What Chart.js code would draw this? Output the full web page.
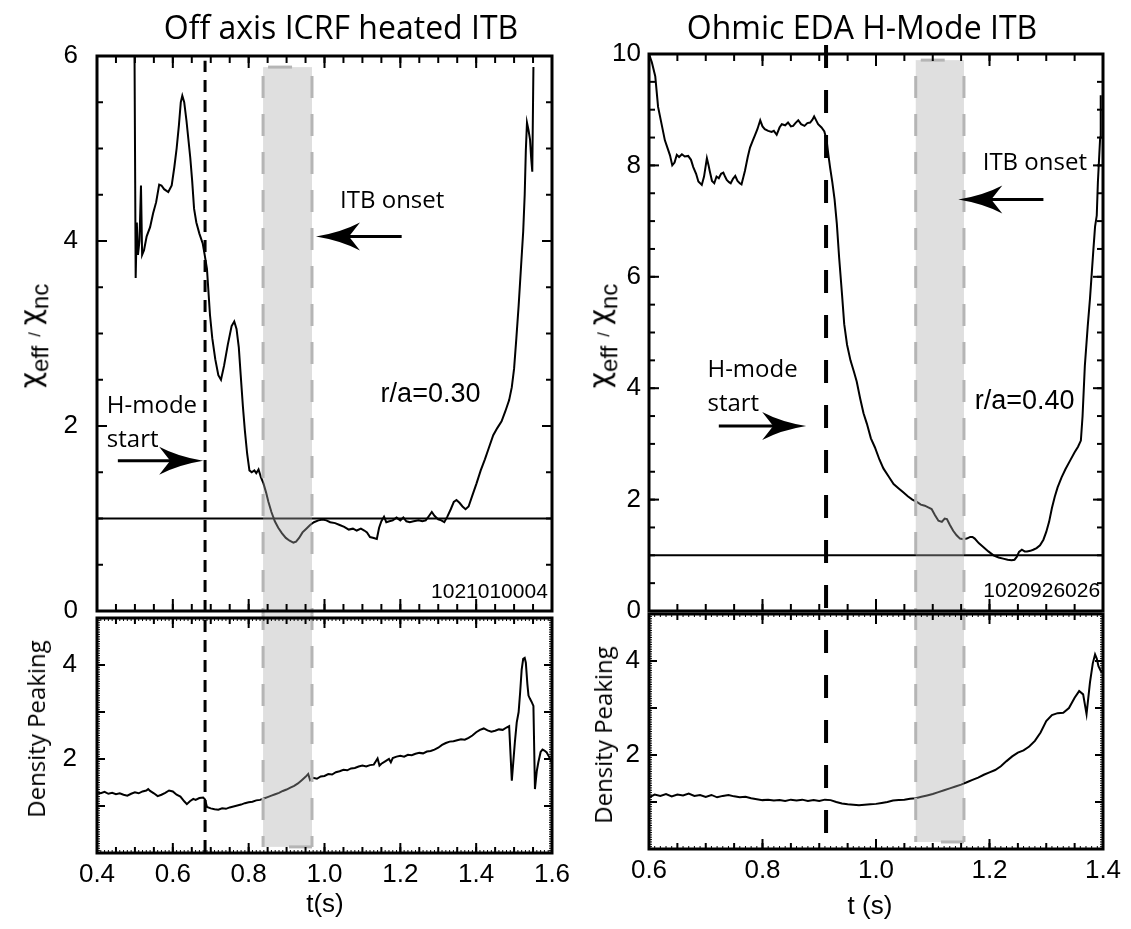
<!DOCTYPE html>
<html>
<head>
<meta charset="utf-8">
<script src="https://cdn.jsdelivr.net/npm/chart.js@4.4.1/dist/chart.umd.min.js"></script>
<style>
  body { margin: 0; background: #fff; width: 1131px; height: 929px; position: relative; overflow: hidden; color: #000; font-family: "Open Sans", sans-serif; }
  canvas { position: absolute; }
  .t { position: absolute; white-space: nowrap; transform: translate(-50%, -50%); line-height: 1; }
  .rot { transform: translate(-50%, -50%) rotate(-90deg); }
  .title { font-size: 32px; }
  .chi { font-family: "Liberation Sans", Arial, sans-serif; font-size: 30px; }
  .chi .g { font-family: "DejaVu Sans", sans-serif; font-size: 28px; }
  .chi sub { font-size: 24px; vertical-align: -0.35em; }
  .chi .sl { font-size: 16px; margin: 0 7px 0 9px; }
  .dens { font-size: 24px; }
  .tx { font-family: "Liberation Sans", Arial, sans-serif; font-size: 26px; }
</style>
</head>
<body>
<canvas id="tl" width="575" height="640" style="left:0;top:0"></canvas>
<canvas id="bl" width="575" height="329" style="left:0;top:600px"></canvas>
<canvas id="tr" width="556" height="640" style="left:575px;top:0"></canvas>
<canvas id="br" width="556" height="329" style="left:575px;top:600px"></canvas>

<div class="t title" style="left:341px;top:27px">Off axis ICRF heated ITB</div>
<div class="t title" style="left:862px;top:27px">Ohmic EDA H-Mode ITB</div>
<div class="t rot chi" style="left:34px;top:336px"><span class="g">χ</span><sub>eff</sub><span class="sl">/</span><span class="g">χ</span><sub>nc</sub></div>
<div class="t rot chi" style="left:603px;top:336px"><span class="g">χ</span><sub>eff</sub><span class="sl">/</span><span class="g">χ</span><sub>nc</sub></div>
<div class="t rot dens" style="left:36px;top:729px">Density Peaking</div>
<div class="t rot dens" style="left:603px;top:735px">Density Peaking</div>
<div class="t tx" style="left:325px;top:903px">t(s)</div>
<div class="t tx" style="left:870px;top:905px">t (s)</div>

<script>
// ---- off axis ICRF heated ITB (shot 1021010004) ----
const icrfT = [0.499, 0.502, 0.505, 0.508, 0.512, 0.516, 0.519, 0.524, 0.531, 0.540, 0.548, 0.556, 0.564, 0.570, 0.577, 0.588, 0.597, 0.604, 0.610, 0.616, 0.621, 0.625, 0.630, 0.636, 0.641, 0.646, 0.651, 0.656, 0.662, 0.670, 0.679, 0.684, 0.690, 0.698, 0.704, 0.712, 0.720, 0.727, 0.735, 0.745, 0.755, 0.762, 0.768, 0.774, 0.779, 0.785, 0.790, 0.796, 0.802, 0.808, 0.815, 0.820, 0.826, 0.832, 0.839, 0.846, 0.852, 0.860, 0.869, 0.878, 0.888, 0.898, 0.908, 0.918, 0.925, 0.933, 0.942, 0.952, 0.962, 0.972, 0.984, 0.995, 1.005, 1.015, 1.028, 1.040, 1.052, 1.064, 1.075, 1.085, 1.096, 1.105, 1.112, 1.120, 1.130, 1.138, 1.144, 1.150, 1.157, 1.163, 1.171, 1.180, 1.190, 1.200, 1.208, 1.216, 1.225, 1.235, 1.248, 1.258, 1.267, 1.276, 1.283, 1.290, 1.300, 1.308, 1.316, 1.324, 1.333, 1.341, 1.348, 1.356, 1.364, 1.372, 1.380, 1.390, 1.401, 1.412, 1.423, 1.434, 1.445, 1.456, 1.467, 1.477, 1.487, 1.494, 1.500, 1.506, 1.512, 1.518, 1.524, 1.528, 1.531, 1.534, 1.538, 1.542, 1.545, 1.548, 1.551];
const icrfChi = [6.0, 3.6, 4.2, 3.85, 4.0, 4.6, 3.85, 3.9, 4.05, 4.15, 4.3, 4.42, 4.61, 4.6, 4.56, 4.53, 4.6, 4.8, 5.0, 5.25, 5.5, 5.57, 5.5, 5.3, 5.1, 4.9, 4.65, 4.35, 4.2, 4.08, 3.97, 3.85, 3.7, 3.2, 2.95, 2.72, 2.55, 2.5, 2.65, 2.88, 3.08, 3.13, 3.05, 2.85, 2.55, 2.2, 1.95, 1.7, 1.52, 1.5, 1.52, 1.49, 1.53, 1.45, 1.38, 1.28, 1.18, 1.07, 0.97, 0.9, 0.84, 0.79, 0.76, 0.74, 0.75, 0.79, 0.85, 0.89, 0.93, 0.96, 0.98, 0.99, 0.98, 0.96, 0.95, 0.93, 0.91, 0.88, 0.89, 0.87, 0.89, 0.87, 0.85, 0.8, 0.79, 0.78, 0.9, 0.97, 1.02, 0.96, 0.97, 0.98, 1.01, 0.98, 1.01, 0.97, 0.96, 0.97, 0.98, 0.97, 0.98, 1.03, 1.07, 1.03, 0.99, 0.98, 0.96, 1.02, 1.1, 1.18, 1.2, 1.17, 1.13, 1.1, 1.13, 1.25, 1.38, 1.52, 1.64, 1.77, 1.9, 1.98, 2.05, 2.16, 2.28, 2.42, 2.62, 2.95, 3.3, 3.7, 4.1, 4.5, 4.98, 5.28, 5.2, 5.1, 4.9, 4.75, 5.88];

const icrfDensT = [0.40, 0.41, 0.42, 0.43, 0.44, 0.45, 0.46, 0.47, 0.48, 0.49, 0.50, 0.51, 0.52, 0.53, 0.535, 0.54, 0.55, 0.56, 0.57, 0.58, 0.59, 0.60, 0.61, 0.62, 0.63, 0.637, 0.645, 0.654, 0.66, 0.67, 0.68, 0.685, 0.69, 0.70, 0.71, 0.72, 0.73, 0.74, 0.75, 0.76, 0.77, 0.78, 0.79, 0.80, 0.81, 0.82, 0.83, 0.84, 0.85, 0.86, 0.87, 0.88, 0.89, 0.90, 0.91, 0.92, 0.93, 0.94, 0.95, 0.957, 0.962, 0.97, 0.98, 0.99, 1.00, 1.01, 1.02, 1.03, 1.04, 1.05, 1.06, 1.07, 1.08, 1.09, 1.10, 1.11, 1.12, 1.13, 1.14, 1.145, 1.15, 1.16, 1.17, 1.175, 1.18, 1.19, 1.20, 1.21, 1.22, 1.23, 1.24, 1.25, 1.26, 1.27, 1.28, 1.29, 1.30, 1.31, 1.32, 1.33, 1.34, 1.35, 1.36, 1.37, 1.38, 1.39, 1.40, 1.41, 1.42, 1.43, 1.44, 1.45, 1.46, 1.47, 1.48, 1.487, 1.494, 1.502, 1.507, 1.512, 1.516, 1.520, 1.524, 1.528, 1.531, 1.535, 1.538, 1.542, 1.546, 1.551, 1.555, 1.560, 1.564, 1.570, 1.575, 1.580, 1.586, 1.592, 1.599];
const icrfDens = [1.29, 1.27, 1.30, 1.26, 1.28, 1.25, 1.27, 1.24, 1.22, 1.26, 1.29, 1.27, 1.31, 1.33, 1.36, 1.32, 1.27, 1.21, 1.24, 1.28, 1.33, 1.31, 1.24, 1.20, 1.10, 1.04, 1.10, 1.15, 1.13, 1.17, 1.18, 1.14, 0.98, 0.95, 0.93, 0.92, 0.95, 0.94, 0.97, 0.99, 1.01, 1.03, 1.06, 1.08, 1.09, 1.12, 1.13, 1.16, 1.19, 1.22, 1.25, 1.28, 1.32, 1.35, 1.39, 1.43, 1.48, 1.55, 1.62, 1.68, 1.55, 1.60, 1.58, 1.63, 1.64, 1.68, 1.67, 1.72, 1.74, 1.77, 1.76, 1.80, 1.81, 1.84, 1.86, 1.84, 1.87, 1.88, 2.01, 1.86, 1.90, 1.95, 2.00, 1.93, 2.02, 2.05, 2.07, 2.05, 2.09, 2.08, 2.11, 2.13, 2.12, 2.16, 2.17, 2.20, 2.24, 2.30, 2.34, 2.37, 2.38, 2.40, 2.42, 2.41, 2.45, 2.50, 2.57, 2.62, 2.65, 2.61, 2.58, 2.60, 2.63, 2.62, 2.67, 2.70, 1.54, 2.35, 2.78, 3.0, 3.42, 3.9, 4.13, 4.15, 4.05, 3.6, 3.35, 3.28, 3.22, 3.13, 1.36, 1.75, 1.93, 2.15, 2.20, 2.18, 2.14, 2.05, 1.93];

// ---- Ohmic EDA H-mode ITB (shot 1020926026) ----
const ohmicT = [0.600, 0.605, 0.611, 0.616, 0.622, 0.628, 0.633, 0.637, 0.641, 0.645, 0.649, 0.653, 0.658, 0.663, 0.669, 0.674, 0.678, 0.683, 0.687, 0.693, 0.697, 0.702, 0.705, 0.707, 0.711, 0.715, 0.719, 0.723, 0.727, 0.731, 0.734, 0.737, 0.741, 0.744, 0.748, 0.752, 0.756, 0.760, 0.763, 0.766, 0.769, 0.774, 0.778, 0.783, 0.787, 0.791, 0.796, 0.800, 0.804, 0.810, 0.816, 0.820, 0.825, 0.830, 0.834, 0.840, 0.845, 0.850, 0.854, 0.858, 0.863, 0.868, 0.874, 0.879, 0.884, 0.888, 0.891, 0.895, 0.898, 0.904, 0.909, 0.913, 0.916, 0.919, 0.923, 0.927, 0.931, 0.935, 0.940, 0.944, 0.949, 0.955, 0.961, 0.966, 0.972, 0.978, 0.984, 0.991, 0.998, 1.006, 1.013, 1.022, 1.031, 1.040, 1.048, 1.056, 1.064, 1.072, 1.079, 1.086, 1.092, 1.098, 1.104, 1.110, 1.116, 1.121, 1.125, 1.130, 1.136, 1.142, 1.148, 1.154, 1.160, 1.166, 1.170, 1.174, 1.181, 1.189, 1.198, 1.207, 1.216, 1.224, 1.232, 1.239, 1.244, 1.248, 1.252, 1.257, 1.262, 1.266, 1.272, 1.277, 1.283, 1.289, 1.295, 1.300, 1.305, 1.310, 1.315, 1.320, 1.327, 1.334, 1.342, 1.350, 1.356, 1.361, 1.364, 1.368, 1.373, 1.377, 1.383, 1.386, 1.389, 1.391, 1.393, 1.395, 1.396];
const ohmicChi = [10.0, 9.85, 9.6, 9.05, 8.75, 8.45, 8.3, 8.18, 8.0, 8.05, 8.19, 8.15, 8.2, 8.16, 8.17, 8.1, 7.97, 7.85, 7.71, 7.65, 7.8, 8.13, 8.0, 7.9, 7.72, 7.68, 7.8, 7.77, 7.85, 7.87, 7.8, 7.74, 7.7, 7.68, 7.76, 7.81, 7.72, 7.68, 7.66, 7.78, 7.9, 8.15, 8.32, 8.45, 8.55, 8.65, 8.81, 8.7, 8.65, 8.62, 8.6, 8.62, 8.55, 8.68, 8.74, 8.72, 8.77, 8.7, 8.71, 8.76, 8.81, 8.74, 8.71, 8.76, 8.77, 8.82, 8.88, 8.8, 8.74, 8.68, 8.61, 8.45, 8.2, 7.97, 7.7, 7.39, 6.95, 6.35, 5.7, 5.15, 4.78, 4.5, 4.3, 4.12, 3.82, 3.55, 3.36, 3.1, 2.94, 2.72, 2.56, 2.42, 2.28, 2.2, 2.13, 2.06, 2.0, 1.96, 1.91, 1.89, 1.86, 1.83, 1.72, 1.62, 1.6, 1.66, 1.65, 1.55, 1.44, 1.36, 1.3, 1.29, 1.3, 1.33, 1.33, 1.3, 1.22, 1.15, 1.07, 1.0, 0.96, 0.94, 0.92, 0.91, 0.92, 0.97, 1.06, 1.1, 1.07, 1.07, 1.08, 1.1, 1.13, 1.18, 1.28, 1.42, 1.6, 1.85, 2.05, 2.22, 2.4, 2.55, 2.7, 2.85, 2.95, 3.06, 3.5, 4.4, 5.1, 5.6, 6.48, 6.9, 7.1, 7.7, 8.1, 8.5, 9.26];

const ohmicDensT = [0.60, 0.61, 0.62, 0.63, 0.64, 0.65, 0.66, 0.67, 0.68, 0.69, 0.70, 0.71, 0.72, 0.73, 0.74, 0.75, 0.76, 0.77, 0.78, 0.79, 0.80, 0.81, 0.82, 0.83, 0.84, 0.85, 0.86, 0.87, 0.88, 0.89, 0.90, 0.91, 0.92, 0.93, 0.94, 0.95, 0.96, 0.97, 0.98, 0.99, 1.00, 1.01, 1.02, 1.03, 1.04, 1.05, 1.06, 1.07, 1.08, 1.09, 1.10, 1.11, 1.12, 1.13, 1.14, 1.15, 1.16, 1.17, 1.18, 1.19, 1.20, 1.21, 1.22, 1.23, 1.24, 1.25, 1.26, 1.27, 1.28, 1.29, 1.30, 1.31, 1.32, 1.33, 1.34, 1.35, 1.358, 1.365, 1.371, 1.377, 1.382, 1.386, 1.389, 1.392, 1.396, 1.40];
const ohmicDens = [1.10, 1.16, 1.13, 1.17, 1.12, 1.16, 1.14, 1.18, 1.13, 1.15, 1.11, 1.15, 1.10, 1.13, 1.15, 1.12, 1.10, 1.11, 1.08, 1.06, 1.04, 1.05, 1.03, 1.04, 1.02, 1.05, 1.03, 1.05, 1.02, 1.04, 1.02, 1.05, 1.04, 1.00, 0.97, 0.95, 0.94, 0.93, 0.94, 0.95, 0.96, 0.98, 1.00, 1.03, 1.04, 1.05, 1.07, 1.08, 1.11, 1.14, 1.17, 1.21, 1.25, 1.29, 1.33, 1.37, 1.42, 1.47, 1.52, 1.58, 1.63, 1.68, 1.76, 1.87, 1.97, 2.05, 2.10, 2.18, 2.30, 2.48, 2.72, 2.85, 2.89, 2.90, 3.00, 3.22, 3.36, 3.29, 2.87, 3.54, 3.95, 4.14, 4.05, 3.89, 3.79, 3.75];

// event markers (s) and ITB onset windows (s)
const icrfHmodeStart = 0.685;
const icrfItbWindow = [0.838, 0.967];
const ohmicHmodeStart = 0.912;
const ohmicItbWindow = [1.070, 1.155];
const unityLevel = 1;

const icrfRange = [0.4, 1.6];
const ohmicRange = [0.6, 1.4];

Chart.defaults.font.family = '"Liberation Sans", Arial, sans-serif';
Chart.defaults.color = '#000';

const pts = (ts, vs) => ts.map((t, i) => ({ x: t, y: vs[i] }));

function line(ctx, x1, y1, x2, y2) {
  ctx.beginPath(); ctx.moveTo(x1, y1); ctx.lineTo(x2, y2); ctx.stroke();
}

function arrow(ctx, x1, x2, y) {
  const d = Math.sign(x2 - x1);
  ctx.lineWidth = 3;
  ctx.setLineDash([]);
  line(ctx, x1, y, x2 - d * 30, y);
  ctx.beginPath();
  ctx.moveTo(x2, y);
  ctx.quadraticCurveTo(x2 - d * 25, y - 4, x2 - d * 44, y - 14);
  ctx.lineTo(x2 - d * 33, y);
  ctx.lineTo(x2 - d * 44, y + 14);
  ctx.quadraticCurveTo(x2 - d * 25, y + 4, x2, y);
  ctx.fill();
}

function drawTicks(ctx, a, scale, horiz, specs) {
  specs.forEach((s) => {
    ctx.lineWidth = s.w;
    const n = Math.round((scale.max - scale.min) / s.step);
    for (let i = 0; i <= n; i++) {
      const p = scale.getPixelForValue(scale.min + i * s.step);
      if (horiz) {
        line(ctx, p, a.bottom, p, a.bottom - s.len);
        line(ctx, p, a.top, p, a.top + s.len);
      } else {
        line(ctx, a.left, p, a.left + s.len, p);
        line(ctx, a.right, p, a.right - s.len, p);
      }
    }
  });
}

const decor = {
  id: 'decor',
  afterDatasetsDraw(chart, args, o) {
    const { ctx, chartArea: a } = chart;
    const x = chart.scales.x, y = chart.scales.y;
    const isTop = o.part === 'top';
    ctx.save();

    // ITB onset window
    const b = o.band;
    const bx0 = x.getPixelForValue(b.from), bx1 = x.getPixelForValue(b.to);
    const by0 = isTop ? y.getPixelForValue(b.top) : a.top - o.gap / 2;
    const by1 = isTop ? a.bottom + o.gap / 2 : y.getPixelForValue(b.bottom);
    ctx.fillStyle = 'rgba(172,172,172,0.38)';
    ctx.fillRect(bx0, by0, bx1 - bx0, by1 - by0);
    ctx.strokeStyle = '#b5b5b5';
    ctx.lineWidth = 3;
    ctx.setLineDash([22, 16]);
    ctx.lineDashOffset = o.canvasTop + by0;
    line(ctx, bx0, by0, bx0, by1);
    line(ctx, bx1, by0, bx1, by1);
    ctx.setLineDash([]);
    if (isTop) line(ctx, bx0 + 5, by0, bx0 + 29, by0);
    else line(ctx, bx1 - 23, by1, bx1, by1);

    // H-mode start
    const hx = x.getPixelForValue(o.hmode.at);
    const hy0 = isTop ? y.getPixelForValue(o.hmode.top) : a.top - o.gap / 2;
    const hy1 = isTop ? a.bottom + o.gap / 2 : a.bottom;
    ctx.strokeStyle = '#000';
    ctx.lineWidth = o.hmode.w;
    ctx.setLineDash(o.hmode.dash);
    ctx.lineDashOffset = o.canvasTop + hy0;
    line(ctx, hx, hy0, hx, hy1);
    ctx.setLineDash([]);

    // frame and inward ticks
    ctx.strokeStyle = '#000';
    ctx.lineWidth = 3;
    ctx.strokeRect(a.left, a.top, a.right - a.left, a.bottom - a.top);
    drawTicks(ctx, a, x, true, o.xTicks);
    drawTicks(ctx, a, y, false, o.yTicks);

    // annotations
    ctx.fillStyle = '#000';
    ctx.textBaseline = 'alphabetic';
    (o.notes || []).forEach((n) => {
      ctx.font = n.font;
      ctx.textAlign = n.align || 'left';
      ctx.fillText(n.text, x.getPixelForValue(n.x), y.getPixelForValue(n.y));
    });
    (o.arrows || []).forEach((r) => {
      arrow(ctx, x.getPixelForValue(r.from), x.getPixelForValue(r.to), y.getPixelForValue(r.y));
    });
    ctx.restore();
  }
};

function fixSize(prop, size) {
  return (s) => {
    if (size != null) s[prop] = size;
    s.paddingLeft = s.paddingRight = s.paddingTop = s.paddingBottom = 0;
  };
}

function panel(id, c) {
  return new Chart(document.getElementById(id), {
    type: 'line',
    data: { datasets: c.datasets },
    options: {
      responsive: false,
      animation: false,
      events: [],
      layout: { padding: c.pad },
      plugins: { legend: { display: false }, tooltip: { enabled: false }, decor: c.decor },
      scales: {
        x: {
          type: 'linear', min: c.xRange[0], max: c.xRange[1], display: c.xLabels,
          afterFit: fixSize('height', c.xHeight),
          grid: { display: false, drawTicks: false }, border: { display: false },
          ticks: { stepSize: 0.2, padding: 6, maxRotation: 0, autoSkip: false, font: { size: 26 },
            callback: (v) => v.toFixed(1) }
        },
        y: {
          min: c.yRange[0], max: c.yRange[1],
          afterFit: fixSize('width', c.yWidth),
          grid: { display: false, drawTicks: false }, border: { display: false },
          ticks: { stepSize: c.yStep, padding: c.yPad, autoSkip: false, font: { size: 26 },
            callback: c.yLabel || ((v) => String(v)) }
        }
      }
    },
    plugins: [decor]
  });
}

const trace = (data) => ({ data, borderColor: '#000', borderWidth: 2, pointRadius: 0, tension: 0 });
const unity = (r) => ({ data: [{ x: r[0], y: unityLevel }, { x: r[1], y: unityLevel }], borderColor: '#000', borderWidth: 2, pointRadius: 0 });
const densLabel = (v) => (v === 2 || v === 4 ? String(v) : '');

const topTicksX = [{ step: 0.05, len: 7, w: 2 }, { step: 0.2, len: 12, w: 2 }];
const topTicksY = [{ step: 0.5, len: 6, w: 2 }, { step: 2, len: 10, w: 2 }];
const botTicksX = [{ step: 0.01, len: 3, w: 1 }, { step: 0.05, len: 6, w: 2 }, { step: 0.2, len: 10, w: 2 }];
const botTicksY = [{ step: 0.05, len: 3, w: 1 }, { step: 1, len: 8, w: 2 }];
const noteFont = '24px "Open Sans"';
const labelFont = '27px "Liberation Sans"';
const shotFont = '21px "Liberation Sans"';

// left column
panel('tl', {
  datasets: [trace(pts(icrfT, icrfChi)), unity(icrfRange)],
  pad: { top: 56, right: 23, bottom: 29, left: 0 },
  xRange: icrfRange, xLabels: false, yRange: [0, 6], yStep: 2, yWidth: 97, yPad: 19,
  decor: {
    part: 'top', canvasTop: 0, gap: 7,
    band: { from: icrfItbWindow[0], to: icrfItbWindow[1], top: 5.88 },
    hmode: { at: icrfHmodeStart, top: 5.95, w: 3, dash: [12, 8] },
    xTicks: topTicksX, yTicks: topTicksY,
    notes: [
      { text: 'ITB onset', x: 1.041, y: 4.36, font: noteFont },
      { text: 'H-mode', x: 0.426, y: 2.14, font: noteFont },
      { text: 'start', x: 0.426, y: 1.77, font: noteFont },
      { text: 'r/a=0.30', x: 1.148, y: 2.26, font: labelFont },
      { text: '1021010004', x: 1.589, y: 0.14, font: shotFont, align: 'right' }
    ],
    arrows: [{ from: 1.2035, to: 0.9775, y: 4.05 }, { from: 0.455, to: 0.680, y: 1.625 }]
  }
});

panel('bl', {
  datasets: [trace(pts(icrfDensT, icrfDens))],
  pad: { top: 18, right: 23, bottom: 0, left: 0 },
  xRange: icrfRange, xLabels: true, xHeight: 76, yRange: [0, 5], yStep: 1, yWidth: 97, yPad: 20, yLabel: densLabel,
  decor: {
    part: 'bottom', canvasTop: 600, gap: 7,
    band: { from: icrfItbWindow[0], to: icrfItbWindow[1], bottom: 0.13 },
    hmode: { at: icrfHmodeStart, w: 3, dash: [12, 8] },
    xTicks: botTicksX, yTicks: botTicksY
  }
});

// right column
panel('tr', {
  datasets: [trace(pts(ohmicT, ohmicChi)), unity(ohmicRange)],
  pad: { top: 54, right: 28, bottom: 29, left: 0 },
  xRange: ohmicRange, xLabels: false, yRange: [0, 10], yStep: 2, yWidth: 74, yPad: 8,
  decor: {
    part: 'top', canvasTop: 0, gap: 3,
    band: { from: ohmicItbWindow[0], to: ohmicItbWindow[1], top: 9.89 },
    hmode: { at: ohmicHmodeStart, top: 10.16, w: 4, dash: [23, 22] },
    xTicks: topTicksX, yTicks: topTicksY,
    notes: [
      { text: 'ITB onset', x: 1.188, y: 7.92, font: noteFont },
      { text: 'H-mode', x: 0.703, y: 4.2, font: noteFont },
      { text: 'start', x: 0.703, y: 3.59, font: noteFont },
      { text: 'r/a=0.40', x: 1.174, y: 3.62, font: labelFont },
      { text: '1020926026', x: 1.395, y: 0.26, font: shotFont, align: 'right' }
    ],
    arrows: [{ from: 1.295, to: 1.145, y: 7.39 }, { from: 0.723, to: 0.877, y: 3.32 }]
  }
});

panel('br', {
  datasets: [trace(pts(ohmicDensT, ohmicDens))],
  pad: { top: 14, right: 28, bottom: 0, left: 0 },
  xRange: ohmicRange, xLabels: true, xHeight: 80, yRange: [0, 5], yStep: 1, yWidth: 74, yPad: 9, yLabel: densLabel,
  decor: {
    part: 'bottom', canvasTop: 600, gap: 3,
    band: { from: ohmicItbWindow[0], to: ohmicItbWindow[1], bottom: 0.15 },
    hmode: { at: ohmicHmodeStart, w: 4, dash: [23, 22] },
    xTicks: botTicksX, yTicks: botTicksY
  }
});
</script>
</body>
</html>
